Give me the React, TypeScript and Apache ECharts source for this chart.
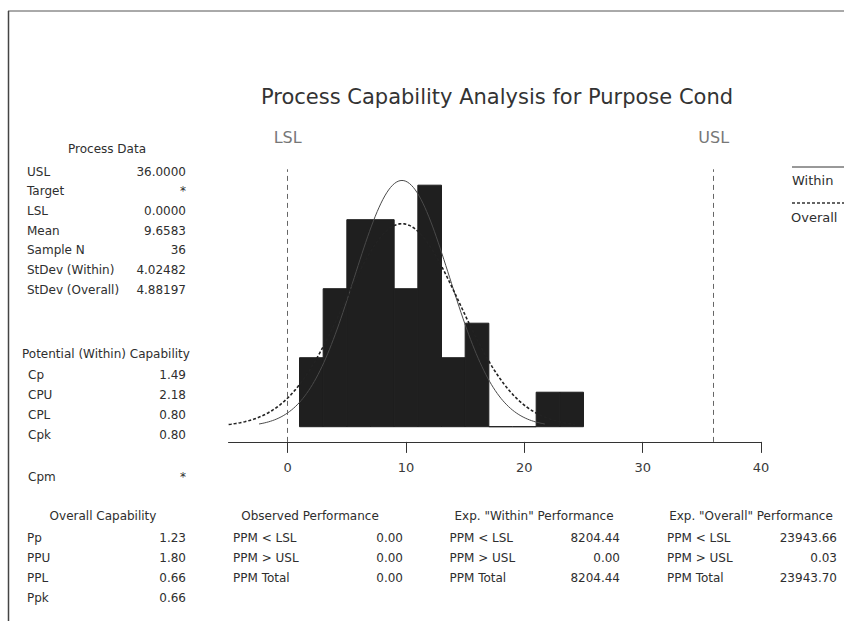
import React, { useEffect, useRef } from "react";
import * as echarts from "echarts";

// ---------- data ----------
const binStarts = [1, 3, 5, 7, 9, 11, 13, 15, 17, 19, 21, 23];
const binCounts = [2, 4, 6, 6, 4, 7, 2, 3, 0, 0, 1, 1];
const binWidth = 2;

const LSL = 0;
const USL = 36;
const MEAN = 9.6583;
const N = 36;
const SD_WITHIN = 4.02482;
const SD_OVERALL = 4.88197;

const xTicks = [0, 10, 20, 30, 40];

const processLabels = ["USL", "Target", "LSL", "Mean", "Sample N", "StDev (Within)", "StDev (Overall)"];
const processValues = ["36.0000", "*", "0.0000", "9.6583", "36", "4.02482", "4.88197"];

const potentialLabels = ["Cp", "CPU", "CPL", "Cpk"];
const potentialValues = ["1.49", "2.18", "0.80", "0.80"];
const cpmValue = "*";

const overallLabels = ["Pp", "PPU", "PPL", "Ppk"];
const overallValues = ["1.23", "1.80", "0.66", "0.66"];

const ppmLabels = ["PPM < LSL", "PPM > USL", "PPM Total"];
const observedValues = ["0.00", "0.00", "0.00"];
const expWithinValues = ["8204.44", "0.00", "8204.44"];
const expOverallValues = ["23943.66", "0.03", "23943.70"];

// ---------- helpers ----------
const FONT = '"DejaVu Sans", Verdana, sans-serif';
const TXT = "#2e2e2e";

function normalCurve(mean: number, sd: number): number[][] {
  const pts: number[][] = [];
  const lo = mean - 3 * sd;
  const hi = mean + 3 * sd;
  const steps = 150;
  for (let i = 0; i <= steps; i++) {
    const x = lo + ((hi - lo) * i) / steps;
    const z = (x - mean) / sd;
    const pdf = Math.exp(-0.5 * z * z) / (sd * Math.sqrt(2 * Math.PI));
    pts.push([x, pdf * N * binWidth]);
  }
  return pts;
}

function txt(x: number, y: number, text: string, align: string = "left", size = 12, fill = TXT) {
  return {
    type: "text",
    x,
    y,
    silent: true,
    style: {
      text,
      fill,
      font: `${size}px ${FONT}`,
      textAlign: align,
      textVerticalAlign: "middle",
    },
  };
}

function buildGraphics() {
  const g: any[] = [];
  // frame
  g.push({ type: "line", shape: { x1: 8, y1: 11, x2: 844, y2: 11 }, style: { stroke: "#555", lineWidth: 1 } });
  g.push({ type: "line", shape: { x1: 8.5, y1: 11, x2: 8.5, y2: 621 }, style: { stroke: "#444", lineWidth: 1.5 } });
  // title
  g.push(txt(497, 97, "Process Capability Analysis for Purpose Cond", "center", 21, "#333"));

  // Process data
  g.push(txt(107, 149, "Process Data", "center"));
  processLabels.forEach((l, i) => {
    const y = 171.5 + 19.7 * i;
    g.push(txt(27, y, l, "left"));
    g.push(txt(186, y, processValues[i], "right"));
  });

  // Potential capability
  g.push(txt(22, 354, "Potential (Within) Capability", "left"));
  potentialLabels.forEach((l, i) => {
    const y = 375 + 20 * i;
    g.push(txt(28, y, l, "left"));
    g.push(txt(186, y, potentialValues[i], "right"));
  });
  g.push(txt(28, 477, "Cpm", "left"));
  g.push(txt(186, 477, cpmValue, "right"));

  // Overall capability
  g.push(txt(103, 516, "Overall Capability", "center"));
  overallLabels.forEach((l, i) => {
    const y = 538 + 20 * i;
    g.push(txt(27, y, l, "left"));
    g.push(txt(186, y, overallValues[i], "right"));
  });

  // Performance tables
  const tables = [
    { head: "Observed Performance", hx: 310, lx: 233, vx: 403, vals: observedValues },
    { head: 'Exp. "Within" Performance', hx: 534, lx: 449.5, vx: 620, vals: expWithinValues },
    { head: 'Exp. "Overall" Performance', hx: 751, lx: 667, vx: 837, vals: expOverallValues },
  ];
  tables.forEach((t) => {
    g.push(txt(t.hx, 516, t.head, "center"));
    ppmLabels.forEach((l, i) => {
      const y = 538 + 20 * i;
      g.push(txt(t.lx, y, l, "left"));
      g.push(txt(t.vx, y, t.vals[i], "right"));
    });
  });

  // legend
  g.push({ type: "line", shape: { x1: 792, y1: 167, x2: 844, y2: 167 }, style: { stroke: "#333", lineWidth: 1 } });
  g.push(txt(792, 180, "Within", "left", 13));
  g.push({
    type: "line",
    shape: { x1: 792, y1: 203, x2: 844, y2: 203 },
    style: { stroke: "#333", lineWidth: 1.3, lineDash: [3, 2] },
  });
  g.push(txt(791, 217.5, "Overall", "left", 13));
  return g;
}

export default function App() {
  const ref = useRef<HTMLDivElement>(null);

  useEffect(() => {
    if (!ref.current) return;
    const chart = echarts.init(ref.current, null, { renderer: "svg" });

    const histData = binStarts.map((s, i) => [s, s + binWidth, binCounts[i]]);

    const option: any = {
      animation: false,
      backgroundColor: "#ffffff",
      textStyle: { fontFamily: FONT },
      grid: { left: 228.5, width: 532.5, top: 169.3, height: 272.6, containLabel: false },
      xAxis: {
        type: "value",
        min: -5,
        max: 40,
        splitLine: { show: false },
        axisLine: { show: true, onZero: false, lineStyle: { color: "#333", width: 1 } },
        axisTick: { show: true, length: 11, customValues: xTicks, lineStyle: { color: "#333" } },
        axisLabel: { customValues: xTicks, color: "#3a3a3a", fontSize: 13, margin: 19, fontFamily: FONT },
      },
      yAxis: {
        type: "value",
        min: -0.44,
        max: 7.46,
        show: false,
        splitLine: { show: false },
      },
      series: [
        {
          type: "custom",
          name: "hist",
          data: histData,
          encode: { x: [0, 1], y: 2 },
          z: 2,
          renderItem: (params: any, api: any) => {
            const p0 = api.coord([api.value(0), api.value(2)]);
            const p1 = api.coord([api.value(1), 0]);
            return {
              type: "rect",
              shape: { x: p0[0], y: p0[1], width: p1[0] - p0[0], height: p1[1] - p0[1] },
              style: { fill: "#1f1f1f", stroke: "#1f1f1f", lineWidth: 1 },
            };
          },
        },
        {
          type: "line",
          name: "Within",
          data: normalCurve(MEAN, SD_WITHIN),
          showSymbol: false,
          symbol: "none",
          z: 3,
          lineStyle: { color: "#4a4a4a", width: 1 },
          markLine: {
            silent: true,
            symbol: "none",
            animation: false,
            lineStyle: { type: [5, 4], color: "#666", width: 1 },
            label: { show: true, position: "end", distance: 24, fontSize: 16, color: "#777", fontFamily: FONT },
            data: [
              { xAxis: LSL, label: { formatter: "LSL" } },
              { xAxis: USL, label: { formatter: "USL" } },
            ],
          },
        },
        {
          type: "line",
          name: "Overall",
          data: normalCurve(MEAN, SD_OVERALL),
          showSymbol: false,
          symbol: "none",
          z: 4,
          lineStyle: { color: "#222", width: 1.6, type: [3, 2] },
        },
      ],
      graphic: buildGraphics(),
    };

    chart.setOption(option);
    return () => chart.dispose();
  }, []);

  return (
    <div
      ref={ref}
      style={{ position: "fixed", left: 0, top: 0, width: 844, height: 621, background: "#fff" }}
    />
  );
}
